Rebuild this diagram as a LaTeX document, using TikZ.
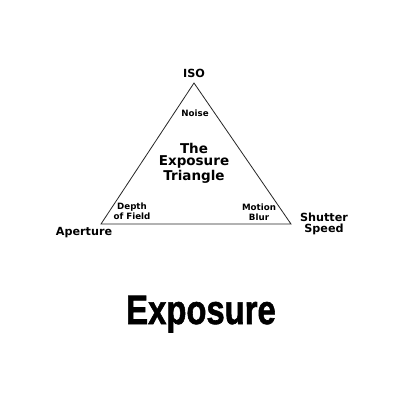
\documentclass[tikz,border=0pt]{standalone}
\usepackage{fontspec}
\setmainfont{DejaVu Sans}
\newfontfamily\titlefont[BoldFeatures={FakeBold=1.6}]{Liberation Sans}
\begin{document}
\begin{tikzpicture}[x=1pt,y=-1pt,
  lbl/.style={font=\bfseries\fontsize{11.2}{11.5}\selectfont, align=center, inner sep=0pt},
  inlbl/.style={font=\bfseries\fontsize{8.7}{9.8}\selectfont, align=center, inner sep=0pt},
  centerlbl/.style={font=\bfseries\fontsize{13.5}{12.6}\selectfont, align=center, inner sep=0pt},
  bigtitle/.style={font=\titlefont\bfseries\fontsize{41}{41}\selectfont, inner sep=0pt, anchor=base}]
\useasboundingbox (0,0) rectangle (400,400);
\fill[white] (0,0) rectangle (400,400);
% triangle corners
\coordinate (top) at (194,83);
\coordinate (left) at (101,224);
\coordinate (right) at (291,224);
\draw[line width=0.8pt, black!85] (top) -- (left) -- (right) -- cycle;
% corner labels
\node[lbl] (iso) at (194,73) {ISO};
\node[lbl] (aperture) at (84,233) {Aperture};
\node[lbl] (shutter) at (324,224) {Shutter\\Speed};
% inner labels
\node[inlbl] (noise) at (195,113) {Noise};
\node[inlbl] (dof) at (132,211) {Depth\\of Field};
\node[inlbl] (blur) at (259,212) {Motion\\Blur};
\node[centerlbl] (center) at (194,163) {The\\Exposure\\Triangle};
% title
\node[bigtitle] (title) at (201,324) {\scalebox{0.8}[1]{Exposure}};
\end{tikzpicture}
\end{document}
